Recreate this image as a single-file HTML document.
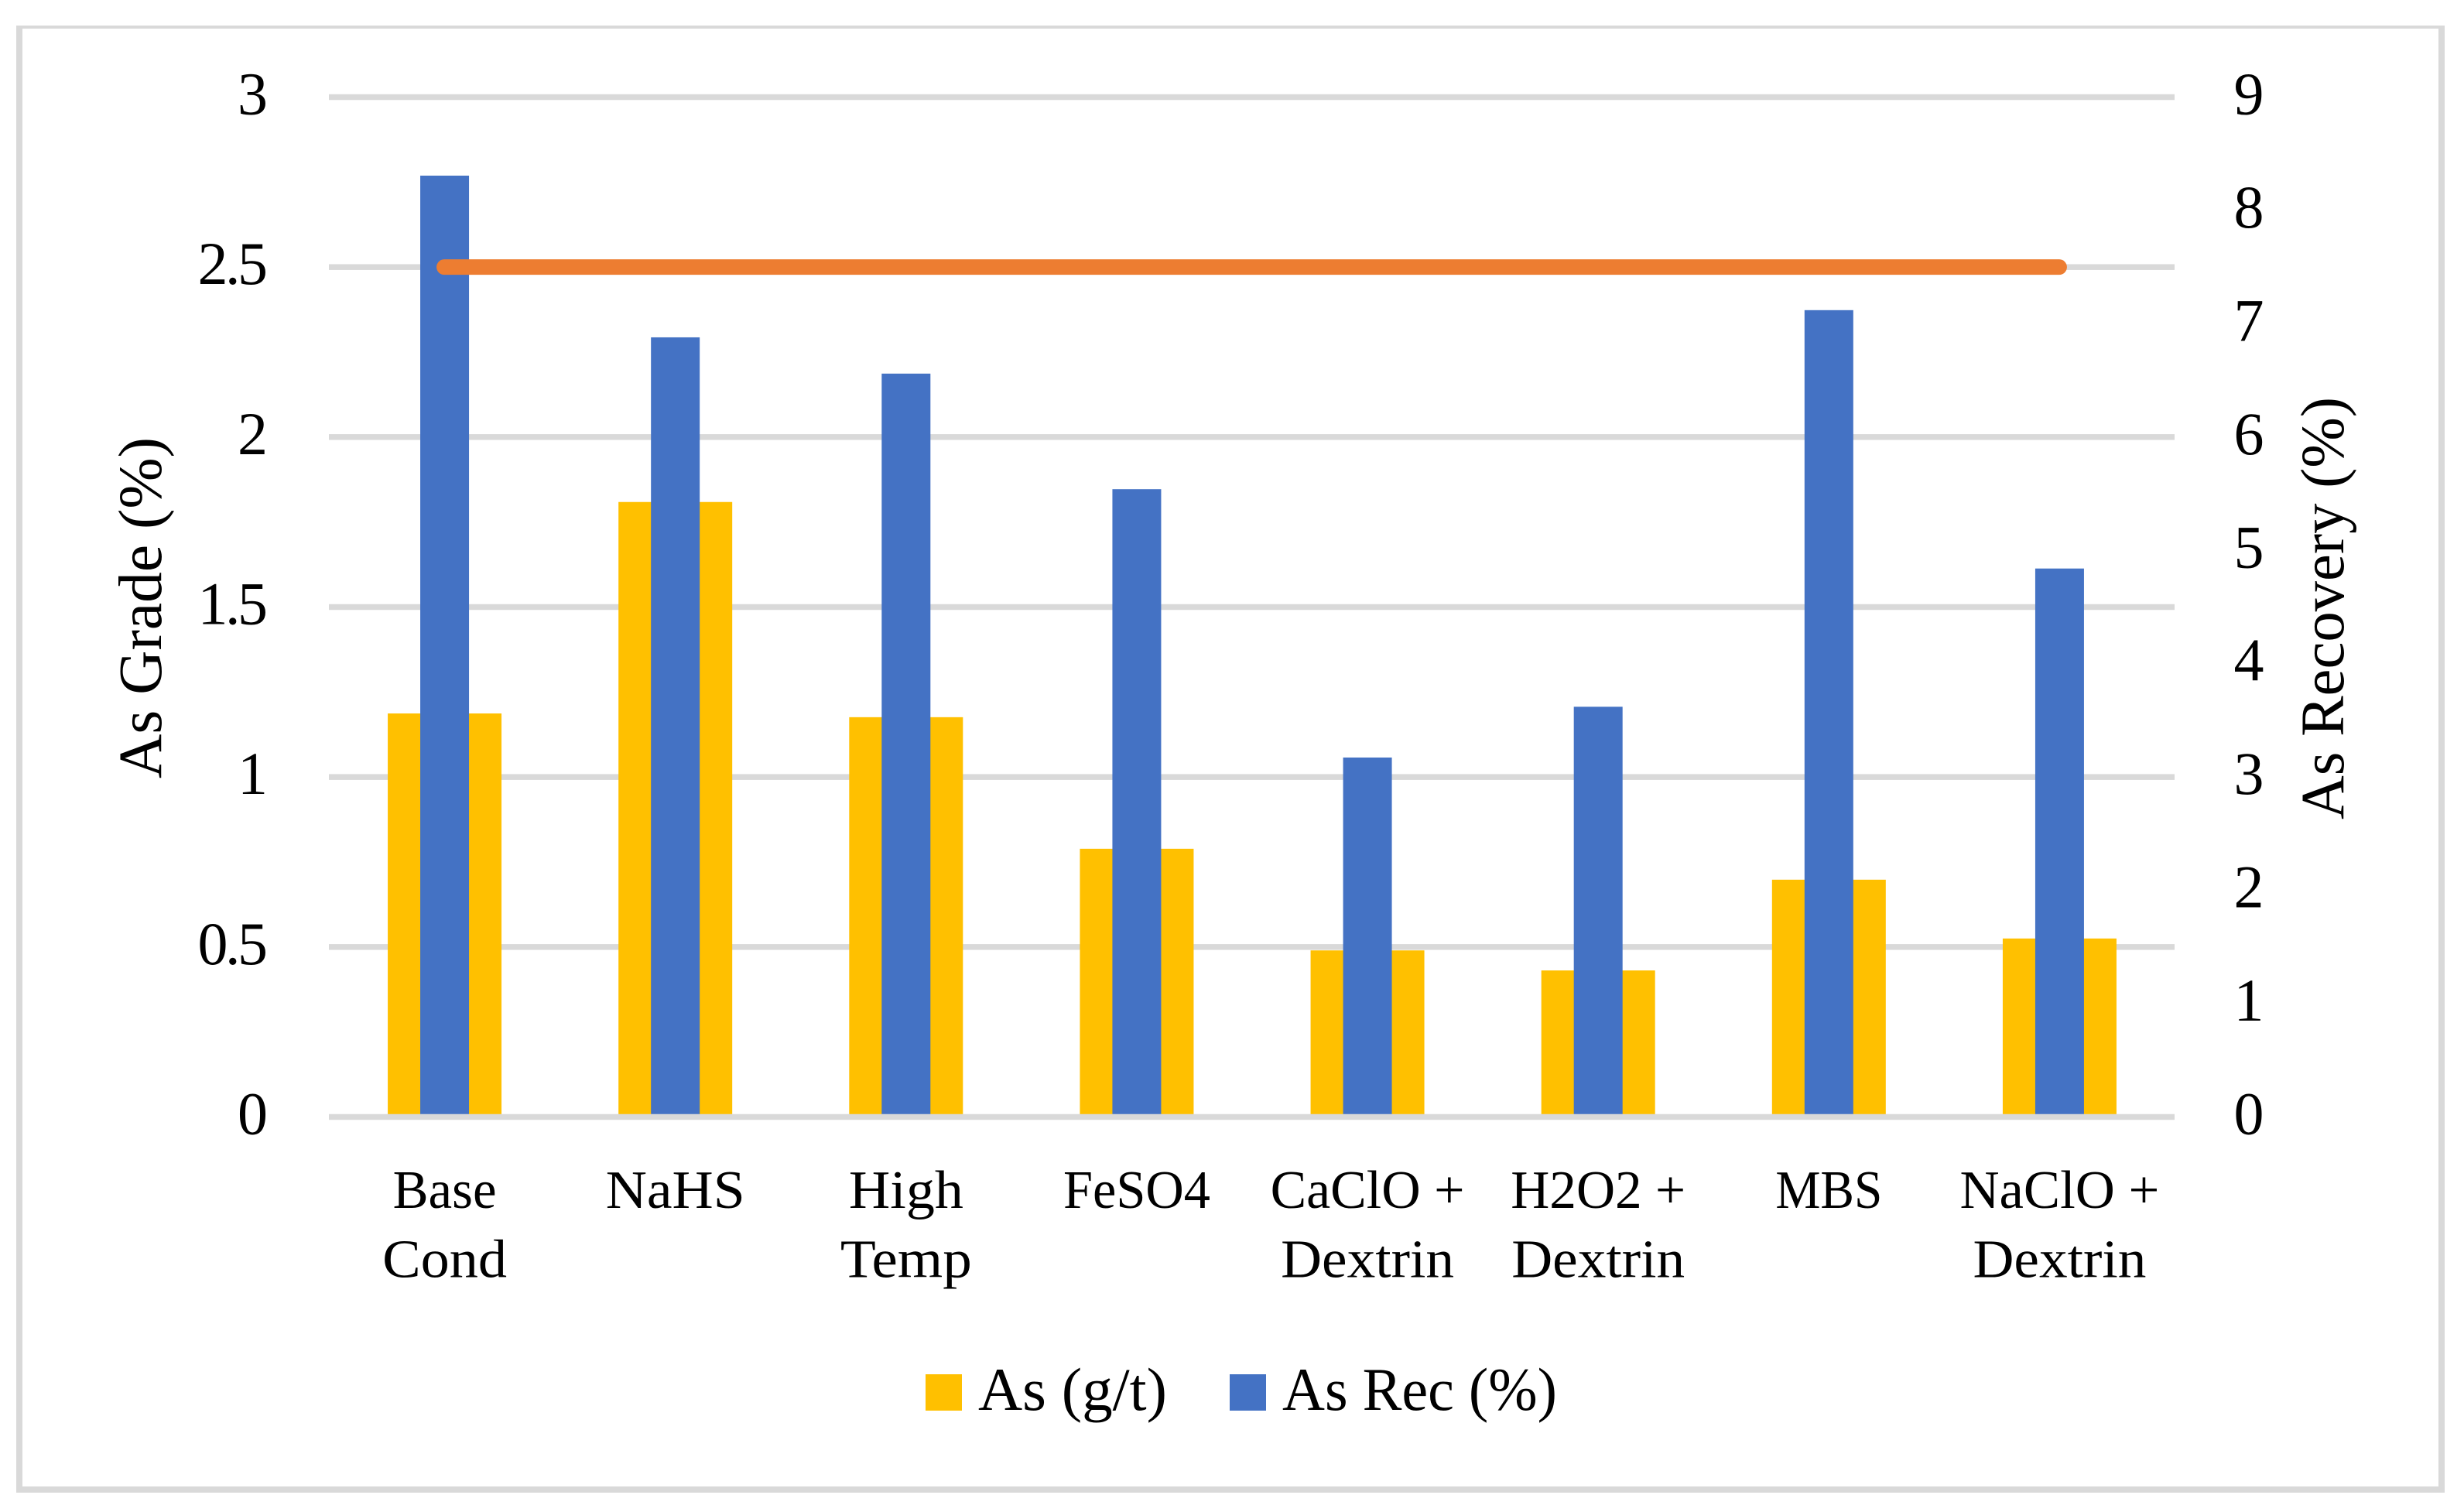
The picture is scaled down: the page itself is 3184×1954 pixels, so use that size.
<!DOCTYPE html>
<html lang="en">
<head>
<meta charset="utf-8">
<title>As Grade and Recovery Chart</title>
<style>
  html, body { margin: 0; padding: 0; background: #fff; }
  #chart { display: block; width: 3184px; height: 1954px; }
  text { font-family: "Liberation Serif", "DejaVu Serif", serif; fill: #000; }
</style>
</head>
<body>
<svg id="chart" xmlns="http://www.w3.org/2000/svg" width="3184" height="1954" viewBox="0 0 3184 1954">
  <rect x="0" y="0" width="3184" height="1954" fill="#ffffff"/>
  <g fill="#d9d9d9">
    <rect x="21" y="33" width="3138" height="4"/>
    <rect x="21" y="33" width="8" height="1896"/>
    <rect x="3151" y="33" width="8" height="1896"/>
    <rect x="21" y="1921" width="3138" height="8"/>
  </g>
  <g id="grid"></g>
  <g id="bars"></g>
  <g id="axis"></g>
  <g id="line"></g>
  <g id="leftTicks"></g>
  <g id="rightTicks"></g>
  <g id="cats"></g>
  <text font-size="79" textLength="441" lengthAdjust="spacingAndGlyphs" transform="translate(208 1006) rotate(-90)">As Grade (%)</text>
  <text font-size="79" textLength="546" lengthAdjust="spacingAndGlyphs" transform="translate(3028 1059) rotate(-90)">As Recovery (%)</text>
  <g>
    <rect x="1196" y="1776" width="47" height="47" fill="#FFC000"/>
    <text x="1264" y="1822" font-size="78" textLength="244" lengthAdjust="spacingAndGlyphs">As (g/t)</text>
    <rect x="1589" y="1776" width="47" height="47" fill="#4472C4"/>
    <text x="1657" y="1822" font-size="78" textLength="355" lengthAdjust="spacingAndGlyphs">As Rec (%)</text>
  </g>
</svg>
<script>
const categories = [["Base","Cond"],["NaHS"],["High","Temp"],["FeSO4"],["CaClO +","Dextrin"],["H2O2 +","Dextrin"],["MBS"],["NaClO +","Dextrin"]];
const asGrade = [1.187, 1.809, 1.176, 0.789, 0.490, 0.431, 0.698, 0.525];
const asRecovery = [8.307, 6.88, 6.56, 5.54, 3.172, 3.62, 7.12, 4.84];
const targetLine = [2.5, 2.5, 2.5, 2.5, 2.5, 2.5, 2.5, 2.5];
const leftTickValues = [0, 0.5, 1, 1.5, 2, 2.5, 3];
const rightTickValues = [0, 1, 2, 3, 4, 5, 6, 7, 8, 9];

const NS = "http://www.w3.org/2000/svg";
const plotLeft = 425, plotRight = 2810, plotTop = 125.5, plotBottom = 1443.5;
const leftMax = 3, rightMax = 9;
const goldWidth = 147, blueWidth = 63;
const labelInkWidth = { "Base": 134, "Cond": 161, "NaHS": 180, "High": 148, "Temp": 170, "FeSO4": 190, "CaClO +": 251, "H2O2 +": 226, "Dextrin": 224, "MBS": 138, "NaClO +": 258 };

function xCenter(i) { return plotLeft + (plotRight - plotLeft) * (i + 0.5) / categories.length; }
function yLeft(v) { return plotBottom - (plotBottom - plotTop) * v / leftMax; }
function yRight(v) { return plotBottom - (plotBottom - plotTop) * v / rightMax; }

function make(tag, attrs, parentId) {
  const el = document.createElementNS(NS, tag);
  for (const k in attrs) el.setAttribute(k, attrs[k]);
  document.getElementById(parentId).appendChild(el);
  return el;
}

leftTickValues.forEach(function (v) {
  const parent = v === 0 ? "axis" : "grid";
  const g = make("rect", { x: plotLeft, y: yLeft(v) - 3.75, width: plotRight - plotLeft, height: 7.5, fill: "#d9d9d9" }, parent);
  
  
  const t = make("text", { x: 342.5, y: yLeft(v) + 22, "font-size": 78, "text-anchor": "end", "letter-spacing": "-3.5" }, "leftTicks");
  t.textContent = String(v);
  
  
});

rightTickValues.forEach(function (v) {
  const t = make("text", { x: 2906, y: yRight(v) + 22, "font-size": 78, "text-anchor": "middle" }, "rightTicks");
  t.textContent = String(v);
  
  
});

asGrade.forEach(function (v, i) {
  const y = yLeft(v);
  const b = make("rect", { x: xCenter(i) - goldWidth / 2 + 0.5, y: y, width: goldWidth, height: plotBottom - y, fill: "#FFC000" }, "bars");
  
  
});

asRecovery.forEach(function (v, i) {
  const y = yRight(v);
  const b = make("rect", { x: xCenter(i) - blueWidth / 2 + 0.5, y: y, width: blueWidth, height: plotBottom - y, fill: "#4472C4" }, "bars");
  
  
});

const linePoints = targetLine.map(function (v, i) { return xCenter(i) + "," + yLeft(v); }).join(" ");
const poly = make("polyline", { points: linePoints, fill: "none", stroke: "#ED7D31", "stroke-width": 20, "stroke-linecap": "round", "stroke-linejoin": "round" }, "line");



categories.forEach(function (lines, i) {
  lines.forEach(function (s, j) {
    const t = make("text", { x: xCenter(i) + 0.5, y: 1561 + j * 89.5, "font-size": 70, "text-anchor": "middle" }, "cats");
    if (labelInkWidth[s]) {
      t.setAttribute("textLength", labelInkWidth[s]);
      t.setAttribute("lengthAdjust", "spacingAndGlyphs");
    }
    t.textContent = s;
    
    
  });
});
</script>
</body>
</html>
